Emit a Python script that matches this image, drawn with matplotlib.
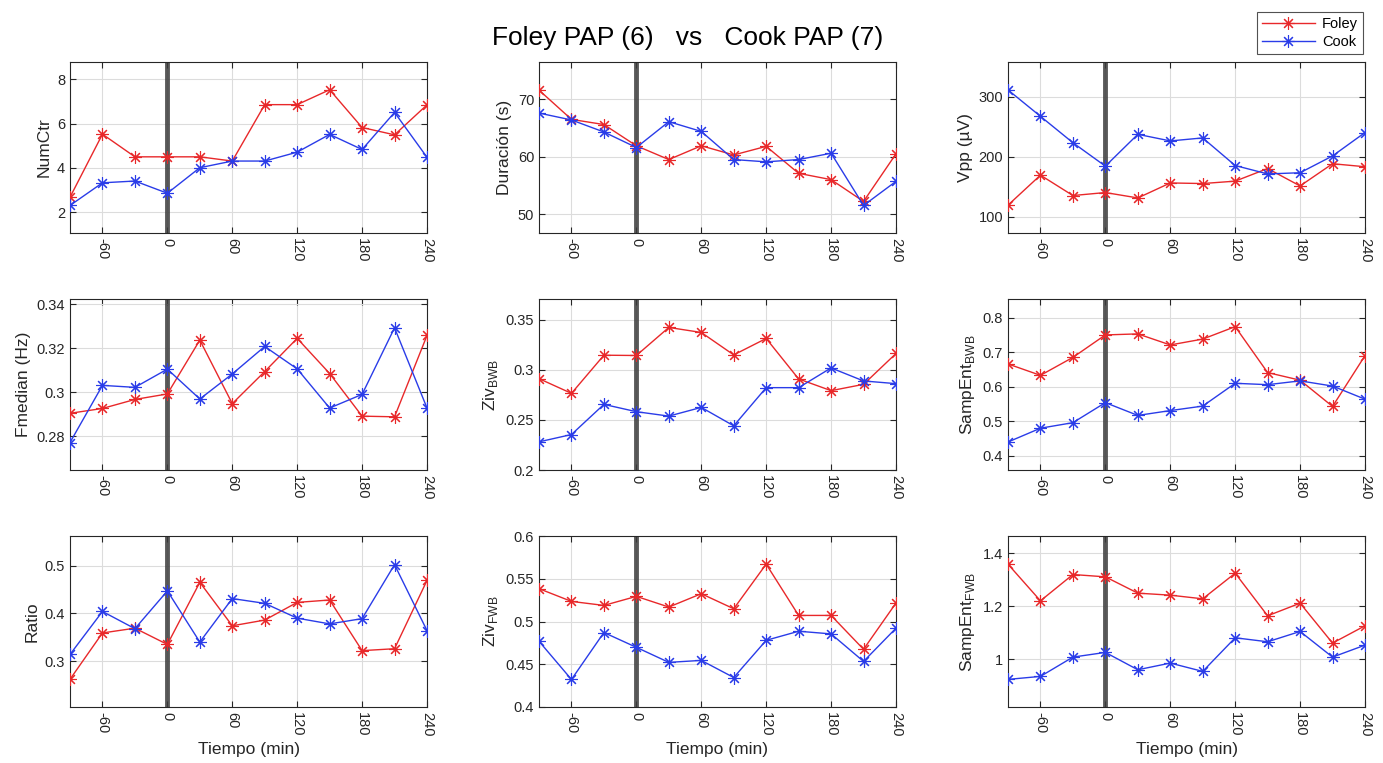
import matplotlib
matplotlib.use("Agg")
import matplotlib.pyplot as plt

plt.rcParams['font.family'] = ['Liberation Sans', 'DejaVu Sans']

tiempo = [-90, -60, -30, 0, 30, 60, 90, 120, 150, 180, 210, 240]
xticks = [-60, 0, 60, 120, 180, 240]

numctr_foley = [2.68, 5.52, 4.5, 4.5, 4.5, 4.31, 6.85, 6.85, 7.52, 5.82, 5.49, 6.84]
numctr_cook = [2.31, 3.33, 3.41, 2.86, 4.01, 4.31, 4.31, 4.71, 5.51, 4.83, 6.5, 4.48]

dur_foley = [71.6, 66.5, 65.6, 61.9, 59.5, 61.9, 60.3, 61.8, 57.1, 56.0, 52.2, 60.5]
dur_cook = [67.6, 66.4, 64.3, 61.6, 66.1, 64.4, 59.5, 59.1, 59.5, 60.6, 51.5, 55.7]

vpp_foley = [119, 169, 135, 140, 131, 156, 155, 159, 180, 151, 188, 183]
vpp_cook = [311, 267, 223, 184, 237, 226, 231, 185, 171, 173, 201, 240]

fmed_foley = [0.2904, 0.2926, 0.2967, 0.2992, 0.3237, 0.2948, 0.3094, 0.3245, 0.3085, 0.2891, 0.2888, 0.3258]
fmed_cook = [0.2771, 0.3031, 0.3022, 0.3105, 0.2969, 0.3083, 0.3208, 0.3106, 0.2928, 0.2990, 0.3293, 0.2928]

zivb_foley = [0.2912, 0.2765, 0.3146, 0.3143, 0.3423, 0.3373, 0.3149, 0.3313, 0.2909, 0.2792, 0.2855, 0.3163]
zivb_cook = [0.2281, 0.2354, 0.2655, 0.2582, 0.2538, 0.2625, 0.2441, 0.2822, 0.2822, 0.3019, 0.2889, 0.2862]

sampb_foley = [0.666, 0.633, 0.685, 0.750, 0.753, 0.721, 0.738, 0.774, 0.641, 0.619, 0.543, 0.690]
sampb_cook = [0.440, 0.480, 0.496, 0.554, 0.517, 0.531, 0.544, 0.610, 0.606, 0.617, 0.602, 0.564]

ratio_foley = [0.262, 0.359, 0.369, 0.335, 0.465, 0.374, 0.386, 0.423, 0.428, 0.322, 0.326, 0.469]
ratio_cook = [0.314, 0.404, 0.368, 0.447, 0.340, 0.431, 0.421, 0.390, 0.378, 0.389, 0.502, 0.364]

zivf_foley = [0.5384, 0.5235, 0.5188, 0.5294, 0.5169, 0.5325, 0.5149, 0.5671, 0.5071, 0.5071, 0.4675, 0.5216]
zivf_cook = [0.4769, 0.4322, 0.4871, 0.4698, 0.4522, 0.4545, 0.4345, 0.4780, 0.4886, 0.4855, 0.4533, 0.4922]

sampf_foley = [1.3585, 1.2201, 1.3195, 1.3107, 1.2491, 1.2415, 1.2277, 1.3245, 1.1635, 1.2113, 1.0604, 1.1258]
sampf_cook = [0.9233, 0.9346, 1.0075, 1.0252, 0.9597, 0.9849, 0.9535, 1.0805, 1.0654, 1.1044, 1.0075, 1.0528]

panels = [
    ("NumCtr", numctr_foley, numctr_cook, (1.07, 8.77), [2, 4, 6, 8]),
    ("Duración (s)", dur_foley, dur_cook, (46.7, 76.5), [50, 60, 70]),
    ("Vpp (µV)", vpp_foley, vpp_cook, (72.6, 357.5), [100, 200, 300]),
    ("Fmedian (Hz)", fmed_foley, fmed_cook, (0.2646, 0.3424), [0.28, 0.30, 0.32, 0.34]),
    (r"Ziv$_\mathregular{BWB}$", zivb_foley, zivb_cook, (0.2, 0.3707), [0.2, 0.25, 0.3, 0.35]),
    (r"SampEnt$_\mathregular{BWB}$", sampb_foley, sampb_cook, (0.359, 0.854), [0.4, 0.5, 0.6, 0.7, 0.8]),
    ("Ratio", ratio_foley, ratio_cook, (0.204, 0.562), [0.3, 0.4, 0.5]),
    (r"Ziv$_\mathregular{FWB}$", zivf_foley, zivf_cook, (0.4, 0.6), [0.4, 0.45, 0.5, 0.55, 0.6]),
    (r"SampEnt$_\mathregular{FWB}$", sampf_foley, sampf_cook, (0.819, 1.465), [1.0, 1.2, 1.4]),
]
ytick_fmt = [
    ["2", "4", "6", "8"], ["50", "60", "70"], ["100", "200", "300"],
    ["0.28", "0.3", "0.32", "0.34"], ["0.2", "0.25", "0.3", "0.35"], ["0.4", "0.5", "0.6", "0.7", "0.8"],
    ["0.3", "0.4", "0.5"], ["0.4", "0.45", "0.5", "0.55", "0.6"], ["1", "1.2", "1.4"],
]

W, H = 1383, 763
fig = plt.figure(figsize=(W / 100, H / 100), dpi=100)

lefts = [70, 539, 1008]
tops = [62, 299, 536]
aw, ah = 357, 171
star = (8, 2, 0)
edge = '#262626'

for i, (ylab, fol, cok, ylim, yt) in enumerate(panels):
    r, c = divmod(i, 3)
    ax = fig.add_axes([lefts[c] / W, 1 - (tops[r] + ah) / H, aw / W, ah / H])
    ax.grid(True, color='#dcdcdc', lw=0.8)
    ax.set_axisbelow(True)
    ax.axvline(0, color='#3c3c3c', lw=3.5, alpha=0.85, zorder=2)
    l1, = ax.plot(tiempo, fol, color='#e8282a', lw=1, marker=star, ms=9, mew=0.8, label='Foley', zorder=3)
    l2, = ax.plot(tiempo, cok, color='#2a3ce8', lw=1, marker=star, ms=9, mew=0.8, label='Cook', zorder=3)
    ax.set_xlim(-90, 240)
    ax.set_ylim(*ylim)
    ax.set_xticks(xticks)
    ax.set_xticklabels([str(v) for v in xticks], rotation=-90, fontsize=10.5, color=edge)
    ax.set_yticks(yt)
    ax.set_yticklabels(ytick_fmt[i], fontsize=10.5, color=edge)
    ax.tick_params(direction='in', top=True, right=True, length=4, color=edge, width=0.8)
    for s in ax.spines.values():
        s.set_color(edge)
        s.set_linewidth(0.8)
    ax.set_ylabel(ylab, fontsize=12.5, color=edge, labelpad=4)
    if r == 2:
        ax.set_xlabel("Tiempo (min)", fontsize=12.5, color=edge, labelpad=4)

fig.text(688 / W, 1 - 38 / H, "Foley PAP (6)   vs   Cook PAP (7)", fontsize=19,
         ha='center', va='center', color='black')

leg = fig.legend([l1, l2], ['Foley', 'Cook'], loc='upper right',
                 bbox_to_anchor=(1363 / W, 1 - 12 / H), borderaxespad=0, fontsize=10.5,
                 frameon=True, fancybox=False, edgecolor=edge, borderpad=0.35,
                 handlelength=3.6, labelspacing=0.25, handletextpad=0.5)
leg.get_frame().set_linewidth(0.8)

fig.savefig("out.png", dpi=100)
